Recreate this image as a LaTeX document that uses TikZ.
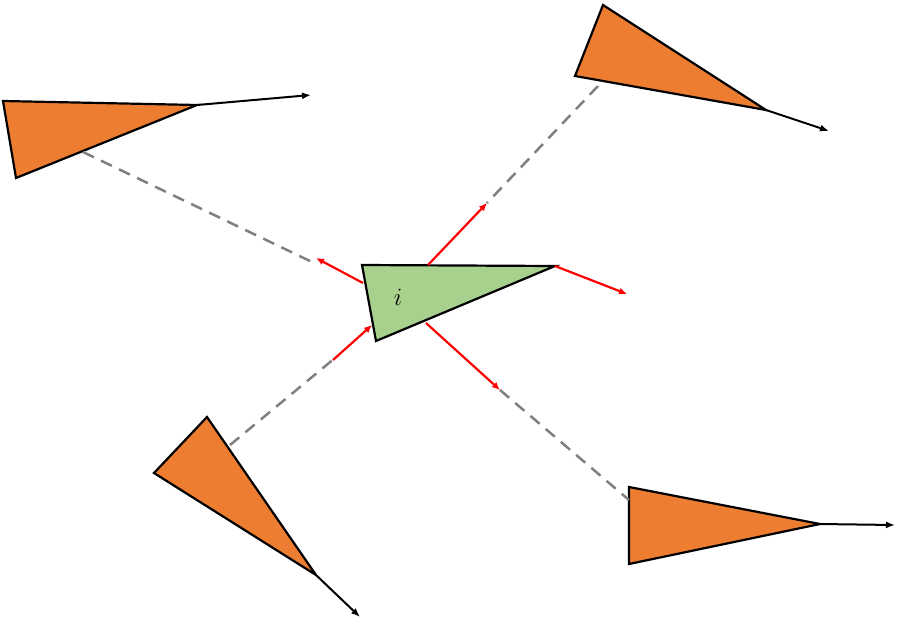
\documentclass[tikz,border=0pt]{standalone}
\usetikzlibrary{arrows.meta}
\begin{document}
\begin{tikzpicture}[x=1pt,y=-1pt,
 agent/.style={draw=black,line width=2.2pt,fill=orange!80!red!75!yellow,line join=miter},
 heading/.style={-{Latex[length=9pt,width=7pt]},line width=2pt},
 link/.style={gray,dashed,line width=2.5pt,dash pattern=on 12pt off 8pt},
 force/.style={red,line width=2.2pt,-{Latex[length=8pt,width=7pt]}}]
\useasboundingbox (0,0) rectangle (912,635);
\definecolor{org}{RGB}{237,125,49}
\definecolor{grn}{RGB}{169,209,142}
% agents
\filldraw[agent,fill=org] (3,101) coordinate (a1) -- (197,105) coordinate (t1) -- (16,178) -- cycle;
\filldraw[agent,fill=org] (603,5) -- (575,76) -- (766,110) coordinate (t2) -- cycle;
\filldraw[agent,fill=org] (207,417) -- (154,473) -- (316,575) coordinate (t3) -- cycle;
\filldraw[agent,fill=org] (629,487) -- (629,564) -- (820,524) coordinate (t4) -- cycle;
\filldraw[agent,fill=grn] (362,265) -- (555,266) coordinate (tc) -- (376,341) -- cycle;
\node (lab) at (398,297) {\fontsize{26}{26}\selectfont $i$};
% headings
\coordinate (h1) at (311,95); \coordinate (h2) at (829,131);
\coordinate (h3) at (360,617); \coordinate (h4) at (895,525);
\draw[heading] (t1) -- (h1);
\draw[heading] (t2) -- (h2);
\draw[heading] (t3) -- (h3);
\draw[heading] (t4) -- (h4);
% links
\coordinate (d1a) at (83,152); \coordinate (d1b) at (312,262);
\coordinate (d2a) at (598,86); \coordinate (d2b) at (487,203);
\coordinate (d3a) at (230,445); \coordinate (d3b) at (335,358);
\coordinate (d4a) at (500,390); \coordinate (d4b) at (629,500);
\draw[link] (d1a) -- (d1b);
\draw[link] (d2a) -- (d2b);
\draw[link] (d3a) -- (d3b);
\draw[link] (d4a) -- (d4b);
% forces
\coordinate (f1) at (363,283); \coordinate (f2) at (428,265);
\coordinate (f4) at (426,323); \coordinate (f5) at (372,325);
\coordinate (f3e) at (627,294);
\draw[force] (f1) -- (316,258);
\draw[force] (f2) -- (d2b);
\draw[force] (tc) -- (f3e);
\draw[force] (f4) -- (d4a);
\draw[force] (333,360) -- (f5);
\end{tikzpicture}
\end{document}
